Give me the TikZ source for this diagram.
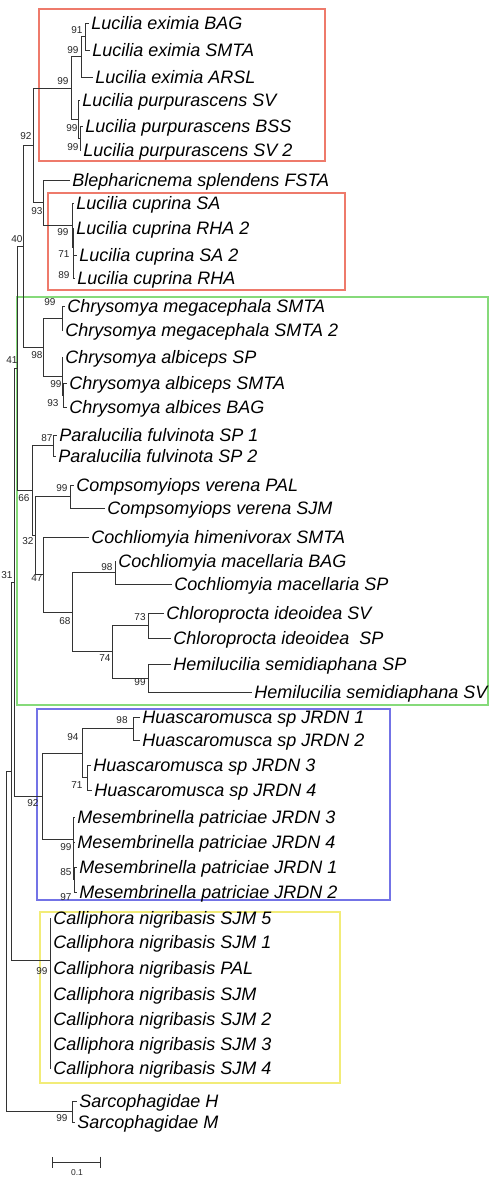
\documentclass[tikz,border=0pt]{standalone}
\usepackage{fontspec}
\setmainfont{Liberation Sans}
\usepackage{xcolor}
\usepackage{tikz}
\usetikzlibrary{arrows.meta}
\definecolor{boxred}{HTML}{EE7A6B}
\definecolor{boxgreen}{HTML}{86DA7A}
\definecolor{boxblue}{HTML}{7373E6}
\definecolor{boxyellow}{HTML}{F2EC78}

\begin{document}
\begin{tikzpicture}[x=1pt, y=-1pt, line width=0.85pt,
  branch/.style={draw=black!80, line width=0.9pt},
  taxon/.style={anchor=west, inner xsep=2pt, inner ysep=0pt, text height=12.9pt,
    text depth=0pt, font=\fontsize{18}{18}\selectfont\itshape},
  boot/.style={inner sep=0pt, text=black!85, font=\fontsize{10}{10}\selectfont},
  clade/.style={line width=1.15pt}]

  \useasboundingbox (0,0) rectangle (492,1183);

  % coloured clade boxes sit behind the tree
  \draw[clade, draw=boxred]    (39,9)    rectangle (325,161);
  \draw[clade, draw=boxred]    (48,193)  rectangle (345,290);
  \draw[clade, draw=boxgreen]  (17,297)  rectangle (488,705);
  \draw[clade, draw=boxblue]   (37,709)  rectangle (390,900);
  \draw[clade, draw=boxyellow] (40,912)  rectangle (340,1083);

  % tips: name / branch end x / y / label
  \foreach \nm/\tx/\ty/\lab in {
      le1/89/23/Lucilia eximia BAG, le2/90/50/Lucilia eximia SMTA,
      le3/93/77/Lucilia eximia ARSL, lp1/80/100/Lucilia purpurascens SV,
      lp2/83/126/Lucilia purpurascens BSS, lp3/81/150/Lucilia purpurascens SV 2,
      bs/70/180/Blepharicnema splendens FSTA,
      lc1/74/203/Lucilia cuprina SA, lc2/74/228/Lucilia cuprina RHA 2,
      lc3/77/255/Lucilia cuprina SA 2, lc4/75/278/Lucilia cuprina RHA,
      cm1/65/306/Chrysomya megacephala SMTA, cm2/63/330/Chrysomya megacephala SMTA 2,
      ca1/63/357/Chrysomya albiceps SP, ca2/67/383/Chrysomya albiceps SMTA,
      ca3/67/407/Chrysomya albices BAG,
      pf1/57/435/Paralucilia fulvinota SP 1, pf2/56/456/Paralucilia fulvinota SP 2,
      cv1/74/485/Compsomyiops verena PAL, cv2/105/508/Compsomyiops verena SJM,
      ch/89/537/Cochliomyia himenivorax SMTA,
      cma1/116/561/Cochliomyia macellaria BAG, cma2/172/584/Cochliomyia macellaria SP,
      ci1/164/613/Chloroprocta ideoidea SV, ci2/171/638/Chloroprocta ideoidea~~SP,
      hs1/171/664/Hemilucilia semidiaphana SP, hs2/252/692/Hemilucilia semidiaphana SV,
      hu1/140/717/Huascaromusca sp JRDN 1, hu2/140/740/Huascaromusca sp JRDN 2,
      hu3/91/765/Huascaromusca sp JRDN 3, hu4/92/790/Huascaromusca sp JRDN 4,
      mp1/75/817/Mesembrinella patriciae JRDN 3, mp2/75/842/Mesembrinella patriciae JRDN 4,
      mp3/77/867/Mesembrinella patriciae JRDN 1, mp4/77/892/Mesembrinella patriciae JRDN 2,
      cn1/51/918/Calliphora nigribasis SJM 5, cn2/51/942/Calliphora nigribasis SJM 1,
      cn3/51/968/Calliphora nigribasis PAL, cn4/51/994/Calliphora nigribasis SJM,
      cn5/51/1019/Calliphora nigribasis SJM 2, cn6/51/1044/Calliphora nigribasis SJM 3,
      cn7/51/1068/Calliphora nigribasis SJM 4,
      sa1/77/1101/Sarcophagidae H, sa2/75/1122/Sarcophagidae M}
    \node[taxon] (\nm) at (\tx,\ty) {\lab};

  % internal nodes at the junction of their two (or more) children
  \foreach \nm/\nx/\ny in {
      a1/85/36.5, a2/81/56.75, p1/80/138, p2/78/119, a3/71/88,
      c3/73.5/266.5, c2/73/247, c/72/225, b/43/202.5, d/33/145,
      meg/62/318, alb2/63.5/395, alb/62/376, f/43/347, e/23/246,
      para/53/445.5, comps/70/496.5, mac/115/572.5, chl/148/625.5, hemi/148/678,
      h5/112/651.75, h4/72/612, h3/43/574.5, h2/35/535.5, h/32/490.5, g/17/368,
      hu12/133/728.5, hu34/87/777.5, hu/82/753,
      mes3/74/879.5, mes2/73.5/860.75, mes/73/839, k/42/796, i/14.5/582,
      cal/50/960, j/11.5/771, sarc/72/1111.5, r/6.5/941}
    \coordinate (\nm) at (\nx,\ny);

  \foreach \p/\c in {
      a1/le1, a1/le2, a2/a1, a2/le3, p1/lp2, p1/lp3, p2/lp1, p2/p1, a3/a2, a3/p2,
      c3/lc3, c3/lc4, c2/lc2, c2/c3, c/lc1, c/c2, b/bs, b/c, d/a3, d/b,
      meg/cm1, meg/cm2, alb2/ca2, alb2/ca3, alb/ca1, alb/alb2, f/meg, f/alb, e/d, e/f,
      para/pf1, para/pf2, comps/cv1, comps/cv2, mac/cma1, mac/cma2,
      chl/ci1, chl/ci2, hemi/hs1, hemi/hs2, h5/chl, h5/hemi, h4/mac, h4/h5,
      h3/ch, h3/h4, h2/comps, h2/h3, h/para, h/h2, g/e, g/h,
      hu12/hu1, hu12/hu2, hu34/hu3, hu34/hu4, hu/hu12, hu/hu34,
      mes3/mp3, mes3/mp4, mes2/mp2, mes2/mes3, mes/mp1, mes/mes2, k/hu, k/mes,
      i/g, i/k, cal/cn1, cal/cn2, cal/cn3, cal/cn4, cal/cn5, cal/cn6, cal/cn7,
      j/i, j/cal, sarc/sa1, sarc/sa2, r/j, r/sarc}
    \draw[branch] (\p) |- (\c);

  % bootstrap values
  \foreach \nm/\bx/\by/\val in {
      bt-a1/77/30/91, bt-a2/73/50/99, bt-a3/63/81/99, bt-p2/72/128/99, bt-p1/73/147/99,
      bt-d/26/136/92, bt-b/37/211/93, bt-c/63/232/99, bt-c2/64/254/71, bt-c3/64/275/89,
      bt-e/17/239/40, bt-meg/50/302/99, bt-f/37/355/98, bt-alb2/56/384/99, bt-alb/53/403/93,
      bt-g/12/360/41, bt-para/47/438/87, bt-h/24/498/66, bt-comps/62/488/99,
      bt-h2/28/541/32, bt-h3/37/578/47, bt-i/7/575/31, bt-mac/107/567/98,
      bt-h4/65/621/68, bt-h5/105/658/74, bt-chl/140/617/73, bt-hemi/140/682/99,
      bt-hu12/122/720/98, bt-hu/73/737/94, bt-hu34/77/785/71, bt-k/33/803/92,
      bt-mes/66/847/99, bt-mes2/66/872/85, bt-mes3/66/897/97,
      bt-cal/42/971/99, bt-sarc/62/1118/99}
    \node[boot] (\nm) at (\bx,\by) {\val};

  % scale bar
  \coordinate (bar-w) at (52,1162);
  \coordinate (bar-e) at (101,1162);
  \draw[branch, {Bar[width=11pt]}-{Bar[width=11pt]}] (bar-w) -- (bar-e);
  \node[boot, font=\fontsize{8.5}{8.5}\selectfont] (bar-lab) at (77,1173) {0.1};

\end{tikzpicture}
\end{document}
